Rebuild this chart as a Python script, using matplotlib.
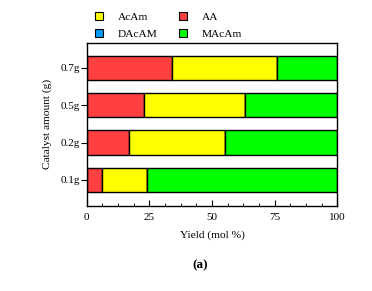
import matplotlib.pyplot as plt
import numpy as np
from matplotlib.lines import Line2D
from matplotlib.ticker import MultipleLocator

plt.rcParams["font.family"] = ["Liberation Serif", "DejaVu Serif"]

catalyst = ["0.1g", "0.2g", "0.5g", "0.7g"]
aa = [6, 17, 23, 34]
acam = [18, 38, 40, 42]
dacam = [0, 0, 0, 0]
macam = [76, 45, 37, 24]

series = [
    ("AA", aa, "#ff4040"),
    ("AcAm", acam, "#ffff00"),
    ("DAcAM", dacam, "#0099ff"),
    ("MAcAm", macam, "#00ff00"),
]

fig = plt.figure(figsize=(3.72, 2.91), dpi=100)
ax = fig.add_axes([0.233, 0.293, 0.674, 0.560])

y = np.arange(len(catalyst))
left = np.zeros(len(catalyst))
for name, vals, color in series:
    vals = np.array(vals, dtype=float)
    ax.barh(y, vals, left=left, height=0.65, color=color,
            edgecolor="black", linewidth=1.0, zorder=2)
    left += vals

ax.set_xlim(0, 100)
ax.set_ylim(-0.69, 3.67)
ax.set_yticks(y)
ax.set_yticklabels(catalyst)
ax.xaxis.set_major_locator(MultipleLocator(25))
ax.xaxis.set_minor_locator(MultipleLocator(6.25))
ax.tick_params(axis="x", which="major", direction="in", length=4, labelsize=8, pad=5)
ax.tick_params(axis="x", which="minor", direction="in", length=2)
ax.tick_params(axis="y", direction="out", length=4, labelsize=8, pad=1)
for s in ax.spines.values():
    s.set_linewidth(1.0)

ax.set_xlabel("Yield (mol %)", fontsize=8.2, labelpad=6)
ax.set_ylabel("Catalyst amount (g)", fontsize=8.2, labelpad=6)

# legend fills column by column: AcAm/DAcAM then AA/MAcAm
order = [("AcAm", "#ffff00"), ("DAcAM", "#0099ff"),
         ("AA", "#ff4040"), ("MAcAm", "#00ff00")]
handles = [Line2D([], [], marker="s", linestyle="none", markersize=5.5,
                  markerfacecolor=c, markeredgecolor="black",
                  markeredgewidth=0.8, label=n) for n, c in order]
fig.legend(handles=handles, ncol=2, loc="upper left",
           bbox_to_anchor=(0.224, 0.993), frameon=False, fontsize=8.2,
           handlelength=1.0, handletextpad=1.15, columnspacing=1.7,
           labelspacing=0.63)

fig.text(200 / 372, 1 - 265 / 291, "(a)", fontsize=9.5, fontweight="bold",
         ha="center", va="center")

fig.savefig("out.png", dpi=100)
